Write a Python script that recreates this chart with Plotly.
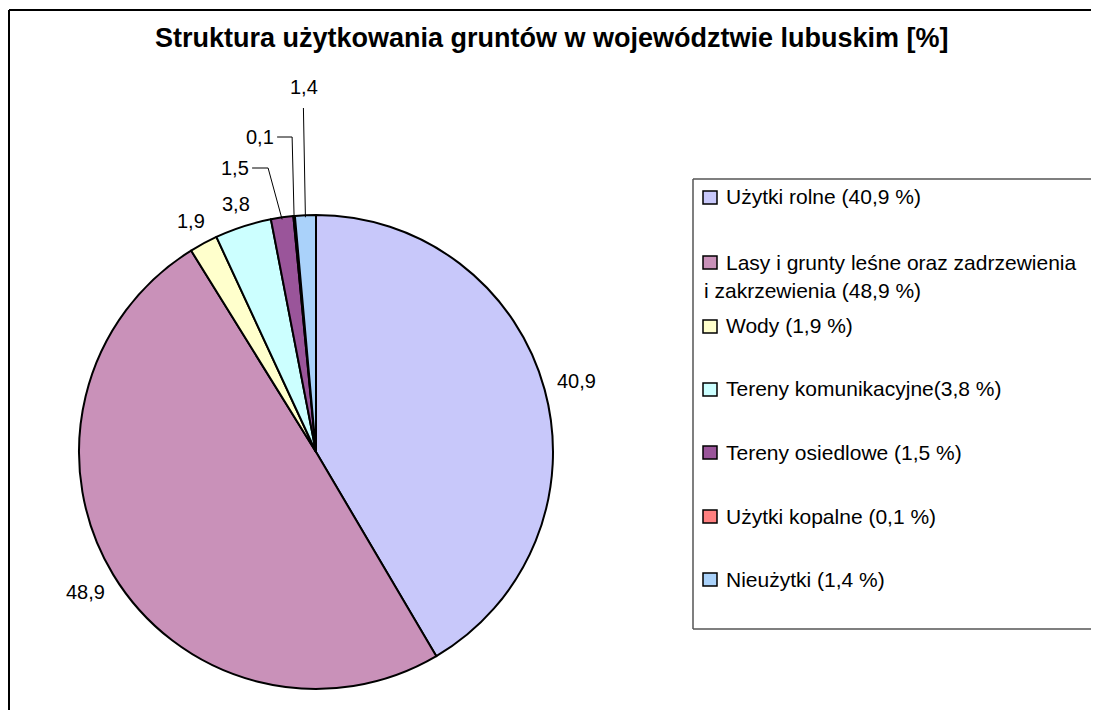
import math
import plotly.graph_objects as go

# ---- data ----
categories = ["Użytki rolne", "Lasy i grunty leśne oraz zadrzewienia i zakrzewienia", "Wody",
              "Tereny komunikacyjne", "Tereny osiedlowe", "Użytki kopalne", "Nieużytki"]
values = [40.9, 48.9, 1.9, 3.8, 1.5, 0.1, 1.4]
legend_labels = ["Użytki rolne (40,9 %)",
                 "Lasy i grunty leśne oraz zadrzewienia<br>i zakrzewienia (48,9 %)",
                 "Wody (1,9 %)",
                 "Tereny komunikacyjne(3,8 %)",
                 "Tereny osiedlowe (1,5 %)",
                 "Użytki kopalne (0,1 %)",
                 "Nieużytki (1,4 %)"]
colors = ["#C8C8FA", "#C991B9", "#FFFFCC", "#CCFFFF", "#9A559A", "#FF8080", "#AAD2FA"]
title = "Struktura użytkowania gruntów w województwie lubuskim [%]"

# ---- layout constants (screen pixels; page body has an 8px margin) ----
OFF = 8
W, H = 1083, 702
CX, CY, R = 316, 452, 237
FONT = "Liberation Sans, Arial, sans-serif"
LBL = 20
LEG = 21


def px(x):
    return (x - OFF) / W


def py(y):
    return 1 - (y - OFF) / H


def seg(x0, y0, x1, y1, color="black", width=1):
    return dict(type="line", xref="paper", yref="paper", x0=px(x0), y0=py(y0), x1=px(x1), y1=py(y1),
                line=dict(color=color, width=width))


fig = go.Figure(go.Pie(
    labels=categories, values=values, sort=False, direction="clockwise", rotation=0,
    marker=dict(colors=colors, line=dict(color="black", width=2)),
    textinfo="none", hoverinfo="skip",
    domain=dict(x=[px(CX - R), px(CX + R)], y=[py(CY + R), py(CY - R)]),
    showlegend=False,
))

shapes = []
annotations = []

# chart frame (continues past the right and bottom edges)
shapes.append(seg(9, 10, W + OFF + 5, 10, width=2))
shapes.append(seg(9, 10, 9, H + OFF + 5, width=2))

annotations.append(dict(text="<b>" + title + "</b>", x=px(552), y=py(38), xref="paper", yref="paper",
                        showarrow=False, xanchor="center", yanchor="middle",
                        font=dict(family=FONT, size=27, color="black")))

# ---- pie value labels ----
total = sum(values)
cum = 0
leader_idx = [4, 5, 6]
leader_y = {4: 168, 5: 137, 6: 108}
elbow_dx = {4: -14, 5: -2, 6: -2}
hlen = {4: 16, 5: 15, 6: 0}
for i, v in enumerate(values):
    mid = (cum + v / 2) / total * 2 * math.pi
    cum += v
    txt = f"{v:.1f}".replace(".", ",")
    s, c = math.sin(mid), math.cos(mid)
    if i not in leader_idx:
        hw, hh = 5.2 * len(txt), 8
        rr = R + 11 + abs(s) * hw + abs(c) * hh
        x, y = CX + rr * s, CY - rr * c
        annotations.append(dict(text=txt, x=px(x), y=py(y), xref="paper", yref="paper", showarrow=False,
                                xanchor="center", yanchor="middle", font=dict(family=FONT, size=LBL, color="black")))
    else:
        ex, ey = CX + R * s, CY - R * c
        bx, by = ex + elbow_dx[i], leader_y[i]
        shapes.append(seg(ex, ey + 2, bx, by))
        if hlen[i] > 0:
            shapes.append(seg(bx, by, bx - hlen[i], by))
            annotations.append(dict(text=txt, x=px(bx - hlen[i] - 1), y=py(by), xref="paper", yref="paper",
                                    showarrow=False, xanchor="right", yanchor="middle",
                                    font=dict(family=FONT, size=LBL, color="black")))
        else:
            annotations.append(dict(text=txt, x=px(bx + 1), y=py(by - 21), xref="paper", yref="paper",
                                    showarrow=False, xanchor="center", yanchor="middle",
                                    font=dict(family=FONT, size=LBL, color="black")))

# ---- manual legend (box continues past the right edge) ----
LX0, LY0, LY1 = 693, 179, 629
shapes.append(seg(LX0, LY0, W + OFF + 5, LY0, color="#555555", width=1.5))
shapes.append(seg(LX0, LY1, W + OFF + 5, LY1, color="#555555", width=1.5))
shapes.append(seg(LX0, LY0, LX0, LY1, color="#555555", width=1.5))
leg_y = [197, 262, 326, 389, 452, 516, 579]
LINE_H = 28
for lab, col, ly in zip(legend_labels, colors, leg_y):
    shapes.append(dict(type="rect", xref="paper", yref="paper", x0=px(703), y0=py(ly + 7), x1=px(717), y1=py(ly - 6),
                       line=dict(color="black", width=1.5), fillcolor=col))
    for k, part in enumerate(lab.split("<br>")):
        annotations.append(dict(text=part, x=px(724 if k == 0 else 702), y=py(ly + k * LINE_H), xref="paper",
                                yref="paper", showarrow=False, xanchor="left", yanchor="middle", align="left",
                                font=dict(family=FONT, size=LEG, color="black")))

fig.update_layout(
    width=W, height=H, margin=dict(l=0, r=0, t=0, b=0),
    paper_bgcolor="white", plot_bgcolor="white",
    shapes=shapes, annotations=annotations,
)

fig.write_html("out.html")
